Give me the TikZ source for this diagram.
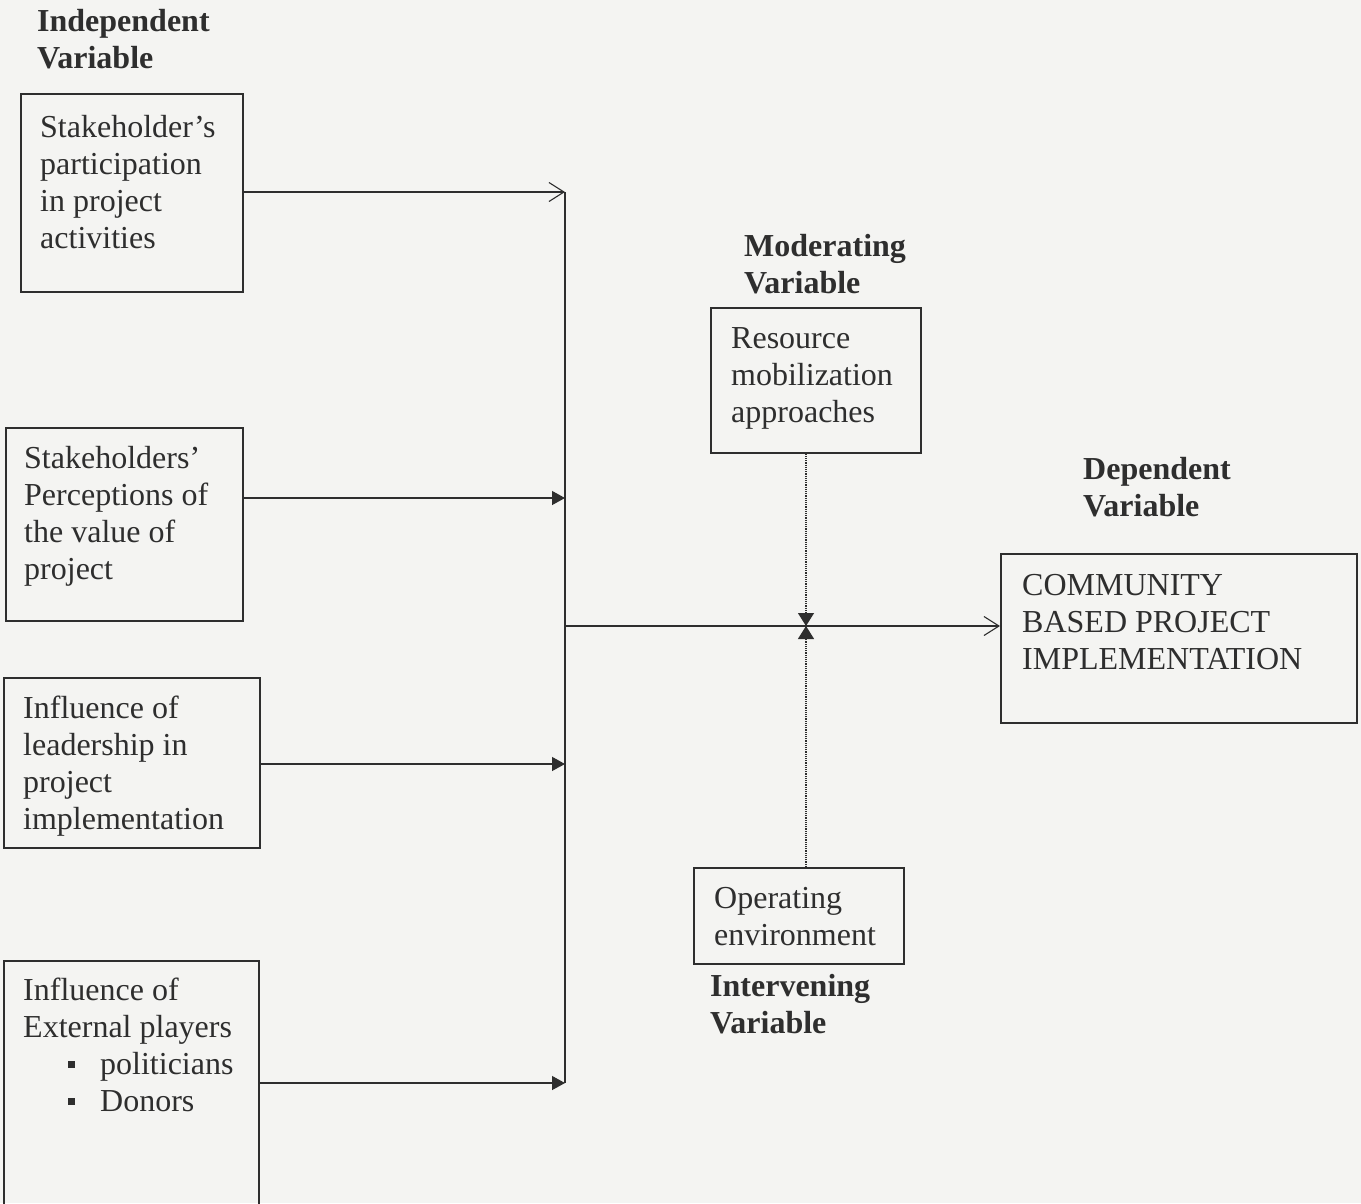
\documentclass[tikz,border=0pt]{standalone}
\usepackage{fontspec}
\setmainfont{Liberation Serif}
\usetikzlibrary{arrows.meta}
\definecolor{ink}{HTML}{2E2E2E}
\definecolor{paper}{HTML}{F4F4F2}
\begin{document}
\begin{tikzpicture}[x=1pt, y=-1pt,
  box/.style={draw=ink, line width=1.6pt, rectangle, inner sep=0, anchor=north west},
  txt/.style={text=ink, inner sep=0, anchor=north west, align=left, font=\fontsize{32}{37}\selectfont},
  head/.style={txt, font=\fontsize{32}{37}\selectfont\bfseries},
  wire/.style={draw=ink, line width=1.2pt},
  open/.style={wire, -{Straight Barb[length=15pt, width=19pt, line width=1.1pt]}},
  solid/.style={wire, -{Triangle[length=13pt, width=14pt]}}]
  \useasboundingbox[fill=paper] (0,0) rectangle (1361,1203);
  \node[head] (indep) at (37,5) {\strut Independent\\Variable};
  \node[box, minimum width=222, minimum height=198] (part) at (20,93) {};
  \node[txt] (parttxt) at (40,111) {\strut Stakeholder’s\\participation\\in project\\activities};
  \node[box, minimum width=237, minimum height=193] (perc) at (5,427) {};
  \node[txt] (perctxt) at (24,442) {\strut Stakeholders’\\Perceptions of\\the value of\\project};
  \node[box, minimum width=256, minimum height=170] (lead) at (3,677) {};
  \node[txt] (leadtxt) at (23,692) {\strut Influence of\\leadership in\\project\\implementation};
  \node[box, minimum width=255, minimum height=245] (extp) at (3,960) {};
  \node[txt] (extptxt) at (23,974) {\strut Influence of\\External players\\
    \hspace*{45pt}\raisebox{6pt}{\rule{7pt}{7pt}}\hspace{25pt}politicians\\
    \hspace*{45pt}\raisebox{6pt}{\rule{7pt}{7pt}}\hspace{25pt}Donors};
  \node[head] (moder) at (744,230) {\strut Moderating\\Variable};
  \node[box, minimum width=210, minimum height=145] (reso) at (710,307) {};
  \node[txt] (resotxt) at (731,322) {\strut Resource\\mobilization\\approaches};
  \node[head] (depv) at (1083,453) {\strut Dependent\\Variable};
  \node[box, minimum width=356, minimum height=169] (comm) at (1000,553) {};
  \node[txt] (commtxt) at (1022,569) {\strut COMMUNITY\\BASED PROJECT\\IMPLEMENTATION};
  \node[box, minimum width=210, minimum height=96] (oper) at (693,867) {};
  \node[txt] (opertxt) at (714,882) {\strut Operating\\environment};
  \node[head] (interv) at (710,970) {\strut Intervening\\Variable};
  \coordinate (b1) at (565,192);
  \coordinate (b2) at (565,498);
  \coordinate (b3) at (565,764);
  \coordinate (b4) at (565,1083);
  \coordinate (b5) at (565,626);
  \coordinate (mid) at (806,626);
  \draw[wire] (b1) -- (b4);
  \draw[open] (part.east |- b1) -- (b1);
  \draw[solid] (perc.east |- b2) -- (b2);
  \draw[solid] (lead.east |- b3) -- (b3);
  \draw[solid] (extp.east |- b4) -- (b4);
  \draw[open] (b5) -- (b5 -| comm.west);
  \draw[wire, densely dotted, -{Triangle[length=13pt, width=16pt]}] (mid |- reso.south) -- (mid);
  \draw[wire, densely dotted, -{Triangle[length=13pt, width=16pt]}] (mid |- oper.north) -- (mid);
\end{tikzpicture}
\end{document}
